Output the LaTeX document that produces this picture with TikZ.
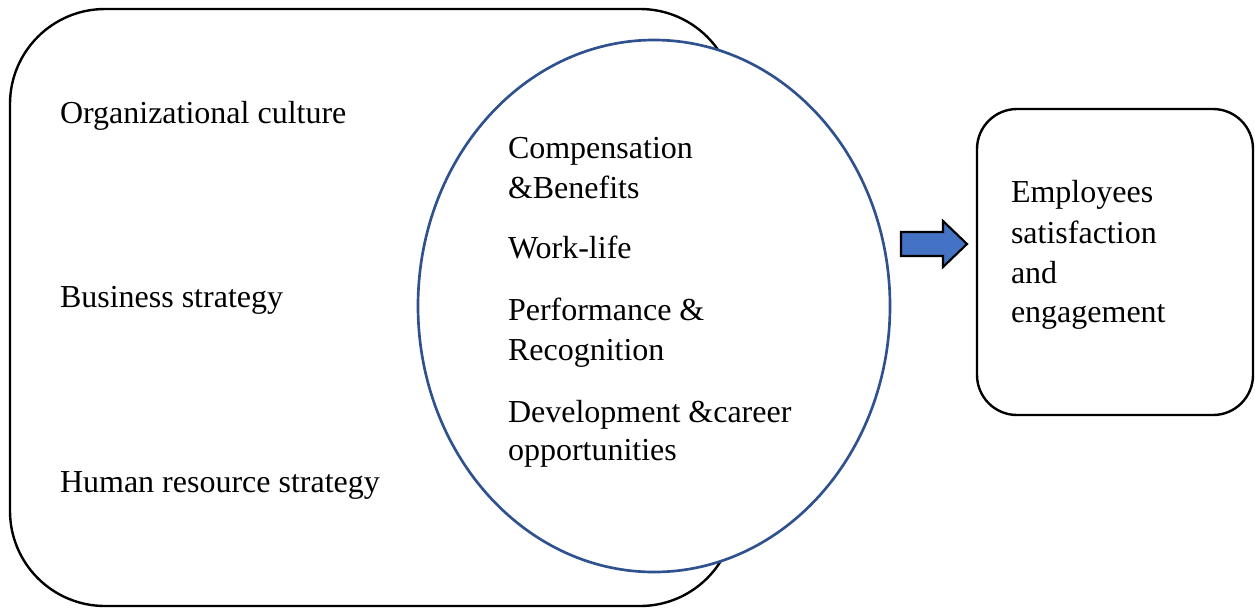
\documentclass[tikz,border=0pt]{standalone}
\usepackage{fontspec}
\setmainfont{Liberation Serif}
\definecolor{ellblue}{HTML}{2F528F}
\definecolor{arrblue}{HTML}{4472C4}
\begin{document}
\begin{tikzpicture}[x=0.75pt,y=-0.75pt,
  lbl/.style={anchor=base west,inner sep=0pt,outer sep=0pt,font=\fontsize{24}{30}\selectfont}]
\useasboundingbox (0,0) rectangle (1255,608);
% outer rounded rectangle
\draw[line width=1.8pt,rounded corners=71.25pt] (10,9) rectangle (735,606);
% ellipse
\draw[ellblue,fill=white,line width=2pt] (654,306) ellipse [x radius=236, y radius=266];
% right box
\draw[line width=1.8pt,rounded corners=30pt] (977,109) rectangle (1253,415);
% block arrow
\draw[fill=arrblue,line width=1.6pt,line join=miter]
  (901,232) -- (943,232) -- (943,221) -- (967,244) -- (943,267) -- (943,256) -- (901,256) -- cycle;
% left texts
\node[lbl] (oc) at (60,123) {Organizational culture};
\node[lbl] (bs) at (60,307) {Business strategy};
\node[lbl] (hr) at (60,492) {Human resource strategy};
% ellipse texts
\node[lbl] (c1) at (508,158) {Compensation};
\node[lbl] (c2) at (508,198) {\&Benefits};
\node[lbl] (wl) at (508,258) {Work-life};
\node[lbl] (p1) at (508,320) {Performance \&};
\node[lbl] (p2) at (508,360) {Recognition};
\node[lbl] (d1) at (508,422) {Development \&career};
\node[lbl] (d2) at (508,460) {opportunities};
% right texts
\node[lbl] (e1) at (1011,202) {Employees};
\node[lbl] (e2) at (1011,243) {satisfaction};
\node[lbl] (e3) at (1011,283) {and};
\node[lbl] (e4) at (1011,322) {engagement};
\end{tikzpicture}
\end{document}
